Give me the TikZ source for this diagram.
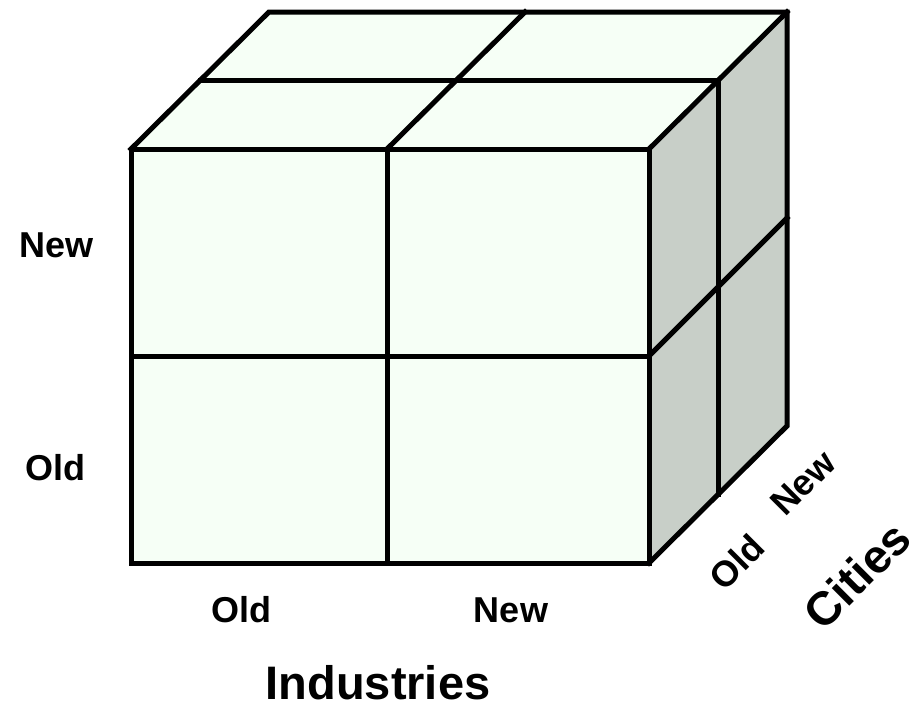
\documentclass[tikz,border=0pt]{standalone}
\usepackage{fontspec}
\setmainfont{Liberation Sans}
\definecolor{frontc}{RGB}{246,255,246}
\definecolor{sidec}{RGB}{200,207,200}
\begin{document}
\begin{tikzpicture}[x=1pt,y=-1pt,
  edge/.style={line width=5pt,line join=miter,line cap=rect},
  lab/.style={font=\fontsize{36}{40}\selectfont\bfseries,inner sep=0pt},
  biglab/.style={font=\fontsize{47}{52}\selectfont\bfseries,inner sep=0pt}]
\useasboundingbox (0,0) rectangle (916,704);
% key points
\coordinate (A) at (131,149);
\coordinate (B) at (649,149);
\coordinate (C) at (649,563);
\coordinate (D) at (131,563);
\coordinate (Am) at (200,80);
\coordinate (Bm) at (718,80);
\coordinate (Cm) at (718,494);
\coordinate (Ab) at (269,12);
\coordinate (Bb) at (787,12);
\coordinate (Cb) at (787,426);
\coordinate (Mt) at (387,149);
\coordinate (Mb) at (387,563);
\coordinate (Mk) at (525,12);
\coordinate (Hl) at (131,356);
\coordinate (Hr) at (649,356);
\coordinate (Hk) at (787,218);
% faces
\fill[frontc] (A) -- (B) -- (C) -- (D) -- cycle;
\fill[frontc] (A) -- (Ab) -- (Bb) -- (B) -- cycle;
\fill[sidec] (B) -- (Bb) -- (Cb) -- (C) -- cycle;
% grid lines
\draw[edge] (A) -- (B) -- (C) -- (D) -- cycle;
\draw[edge] (Mt) -- (Mb);
\draw[edge] (Hl) -- (Hr);
\draw[edge] (A) -- (Ab) -- (Bb) -- (Cb) -- (C);
\draw[edge] (B) -- (Bb);
\draw[edge] (Am) -- (Bm) -- (Cm);
\draw[edge] (Mt) -- (Mk);
\draw[edge] (Hr) -- (Hk);
% labels
\node[lab] (ln) at (57,245) {New};
\node[lab] (lo) at (55,468) {Old};
\node[lab] (bo) at (241,610) {Old};
\node[lab] (bn) at (511,610) {New};
\node[biglab] (ind) at (378,683) {Industries};
\node[lab,rotate=45] (co) at (737,562) {Old};
\node[lab,rotate=45] (cn) at (803,483) {New};
\node[biglab,rotate=45] (ci) at (857,575) {Cities};
\end{tikzpicture}
\end{document}
